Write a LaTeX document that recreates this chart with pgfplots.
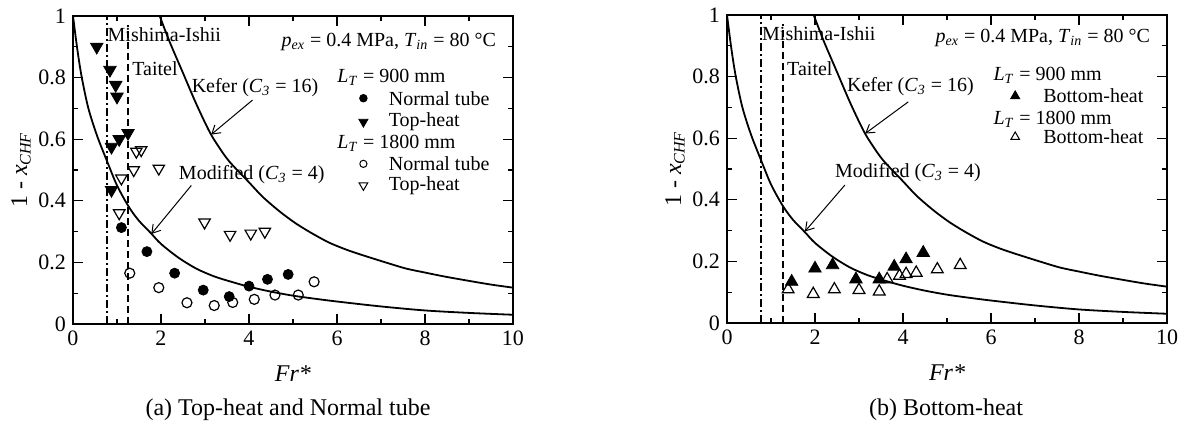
\documentclass[border=0pt]{standalone}
\usepackage{fontspec}
\setmainfont{Liberation Serif}
\usepackage{pgfplots}
\pgfplotsset{compat=1.18}
\usetikzlibrary{arrows.meta}

\newcommand{\var}[2]{\textit{#1}\textsubscript{\textit{#2}}}

\pgfplotsset{
  chf/.style={
    scale only axis, width=220pt, height=154pt,
    xmin=0, xmax=10, ymin=0, ymax=1,
    xtick={0,2,...,10}, ytick={0,0.2,...,1},
    minor x tick num=1, minor y tick num=1,
    tick align=inside, major tick length=5pt, minor tick length=2.5pt,
    axis line style={line width=0.8pt}, every tick/.style={black, line width=0.6pt},
    tick label style={font=\fontsize{11}{13}\selectfont},
    /pgf/number format/assume math mode=true,
    xlabel={\textit{Fr*}},
    xlabel style={at={(axis description cs:0.5,-0.16)}, anchor=center, font=\fontsize{12}{14}\selectfont},
    ylabel={1 - \var{x}{CHF}},
    ylabel style={at={(axis description cs:-0.118,0.5)}, anchor=center, font=\fontsize{12}{14}\selectfont},
    every node/.style={font=\fontsize{10.5}{12}\selectfont},
    clip=false,
  },
  curve/.style={black, line width=0.9pt, smooth, no marks},
}

% read-off curves
\pgfplotstableread{
x y
1.97 1.0
2.2 0.915
2.5 0.815
2.8 0.715
3.1 0.625
3.3 0.578
3.55 0.528
4.0 0.46
4.31 0.413
4.7 0.365
5.06 0.327
5.4 0.297
5.81 0.265
6.2 0.242
6.57 0.224
7.17 0.197
7.57 0.180
8.0 0.167
8.45 0.154
9.0 0.140
9.5 0.128
10.0 0.118
}\kefer
\pgfplotstableread{
x y
0.0 1.0
0.1 0.89
0.2 0.80
0.35 0.70
0.55 0.61
0.77 0.53
1.0 0.45
1.27 0.38
1.5 0.335
1.77 0.295
2.0 0.26
2.4 0.215
2.8 0.18
3.2 0.155
3.6 0.137
4.0 0.121
4.5 0.105
5.0 0.092
5.5 0.082
6.0 0.073
7.0 0.057
8.0 0.044
9.0 0.036
10.0 0.030
}\modified

\begin{document}
\begin{tikzpicture}
\path[use as bounding box] (0,0) rectangle (590pt,214pt);

% ---------- (a) ----------
\begin{axis}[chf, at={(36.5pt,52pt)}, anchor=south west]
\addplot[curve] table {\kefer};
\addplot[curve] table {\modified};
\addplot[black, line width=0.7pt, dash pattern=on 4pt off 1.5pt on 1pt off 1.5pt] coordinates {(0.77,0) (0.77,1)};
\addplot[black, line width=0.7pt, dash pattern=on 3.5pt off 2pt] coordinates {(1.25,0) (1.25,0.97)};
% L_T = 900 mm, normal tube
\addplot[only marks, mark=*, mark size=2.5pt, black] coordinates {
(1.10,0.313) (1.68,0.235) (2.31,0.165) (2.96,0.11) (3.55,0.089) (4.0,0.123) (4.42,0.145) (4.89,0.161)};
% L_T = 900 mm, top-heat
\addplot[only marks, mark=triangle*, mark size=3.6pt, mark options={rotate=180}, black] coordinates {
(0.54,0.90) (0.84,0.825) (0.97,0.776) (1.0,0.738) (1.25,0.62) (1.05,0.60) (0.875,0.575) (0.875,0.435)};
% L_T = 1800 mm, normal tube
\addplot[only marks, mark=o, mark size=2.5pt, black, line width=0.6pt] coordinates {
(1.29,0.165) (1.95,0.118) (2.59,0.069) (3.21,0.06) (3.63,0.07) (4.12,0.08) (4.59,0.094) (5.12,0.094) (5.48,0.137)};
% L_T = 1800 mm, top-heat
\addplot[only marks, mark=triangle, mark size=3.3pt, mark options={rotate=180}, black, line width=0.6pt] coordinates {
(1.44,0.56) (1.55,0.565) (1.38,0.50) (1.95,0.505) (1.10,0.473) (1.05,0.36) (2.99,0.33) (3.57,0.29) (4.04,0.294) (4.36,0.30)};
% legend markers
\addplot[only marks, mark=*, mark size=1.9pt, black] coordinates {(6.6,0.733)};
\addplot[only marks, mark=triangle*, mark size=2.6pt, mark options={rotate=180}, black] coordinates {(6.6,0.656)};
\addplot[only marks, mark=o, mark size=1.8pt, black, line width=0.5pt] coordinates {(6.6,0.52)};
\addplot[only marks, mark=triangle, mark size=2.5pt, mark options={rotate=180}, black, line width=0.5pt] coordinates {(6.6,0.45)};

\node[anchor=west, inner sep=0pt] at (axis cs:0.78,0.94) {Mishima-Ishii};
\node[anchor=west, inner sep=0pt] at (axis cs:1.34,0.828) {Taitel};
\node[anchor=east, inner sep=0pt] at (axis cs:9.62,0.915) {\var{p}{ex} = 0.4 MPa, \var{T}{in} = 80 °C};
\node[anchor=west, inner sep=0pt] at (axis cs:2.69,0.766) {Kefer (\var{C}{3} = 16)};
\node[anchor=west, inner sep=0pt] at (axis cs:2.40,0.484) {Modified (\var{C}{3} = 4)};
\draw[-{Straight Barb[length=4pt,width=5pt]}, line width=0.5pt] (axis cs:4.08,0.727) -- (axis cs:3.14,0.615);
\draw[-{Straight Barb[length=4pt,width=5pt]}, line width=0.5pt] (axis cs:2.69,0.45) -- (axis cs:1.78,0.292);
\node[anchor=west, inner sep=0pt] at (axis cs:6.0,0.80) {\var{L}{T} = 900 mm};
\node[anchor=west, inner sep=0pt] at (axis cs:7.17,0.733) {Normal tube};
\node[anchor=west, inner sep=0pt] at (axis cs:7.17,0.656) {Top-heat};
\node[anchor=west, inner sep=0pt] at (axis cs:6.0,0.587) {\var{L}{T} = 1800 mm};
\node[anchor=west, inner sep=0pt] at (axis cs:7.17,0.52) {Normal tube};
\node[anchor=west, inner sep=0pt] at (axis cs:7.17,0.45) {Top-heat};
\end{axis}

% ---------- (b) ----------
\begin{axis}[chf, at={(363.5pt,52.5pt)}, anchor=south west]
\addplot[curve] table {\kefer};
\addplot[curve] table {\modified};
\addplot[black, line width=0.7pt, dash pattern=on 4pt off 1.5pt on 1pt off 1.5pt] coordinates {(0.77,0) (0.77,1)};
\addplot[black, line width=0.7pt, dash pattern=on 3.5pt off 2pt] coordinates {(1.27,0) (1.27,0.97)};
% L_T = 900 mm, bottom-heat
\addplot[only marks, mark=triangle*, mark size=3.6pt, black] coordinates {
(1.47,0.134) (2.0,0.177) (2.40,0.188) (2.93,0.142) (3.46,0.142) (3.80,0.183) (4.07,0.207) (4.46,0.228)};
% L_T = 1800 mm, bottom-heat
\addplot[only marks, mark=triangle, mark size=3.4pt, black, line width=0.6pt] coordinates {
(1.39,0.109) (1.96,0.094) (2.44,0.109) (3.0,0.107) (3.46,0.102) (3.64,0.142) (3.92,0.153) (4.07,0.159) (4.30,0.163) (4.78,0.174) (5.30,0.188)};
% legend markers
\addplot[only marks, mark=triangle*, mark size=2.6pt, black] coordinates {(6.55,0.737)};
\addplot[only marks, mark=triangle, mark size=2.5pt, black, line width=0.5pt] coordinates {(6.55,0.604)};

\node[anchor=west, inner sep=0pt] at (axis cs:0.79,0.94) {Mishima-Ishii};
\node[anchor=west, inner sep=0pt] at (axis cs:1.36,0.827) {Taitel};
\node[anchor=east, inner sep=0pt] at (axis cs:9.62,0.925) {\var{p}{ex} = 0.4 MPa, \var{T}{in} = 80 °C};
\node[anchor=west, inner sep=0pt] at (axis cs:2.72,0.767) {Kefer (\var{C}{3} = 16)};
\node[anchor=west, inner sep=0pt] at (axis cs:2.45,0.487) {Modified (\var{C}{3} = 4)};
\draw[-{Straight Barb[length=4pt,width=5pt]}, line width=0.5pt] (axis cs:4.12,0.718) -- (axis cs:3.14,0.615);
\draw[-{Straight Barb[length=4pt,width=5pt]}, line width=0.5pt] (axis cs:2.68,0.448) -- (axis cs:1.77,0.297);
\node[anchor=west, inner sep=0pt] at (axis cs:6.05,0.805) {\var{L}{T} = 900 mm};
\node[anchor=west, inner sep=0pt] at (axis cs:7.18,0.737) {Bottom-heat};
\node[anchor=west, inner sep=0pt] at (axis cs:6.05,0.662) {\var{L}{T} = 1800 mm};
\node[anchor=west, inner sep=0pt] at (axis cs:7.18,0.604) {Bottom-heat};
\end{axis}

\node[font=\fontsize{12}{14}\selectfont] at (144pt,9pt) {(a) Top-heat and Normal tube};
\node[font=\fontsize{12}{14}\selectfont] at (473pt,9pt) {(b) Bottom-heat};
\end{tikzpicture}
\end{document}
